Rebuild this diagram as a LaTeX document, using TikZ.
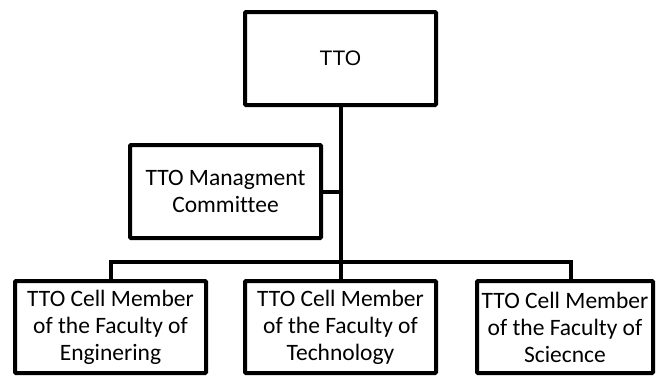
\documentclass[tikz,border=0pt]{standalone}
\usepackage{fontspec}
\setmainfont[Ligatures={NoCommon}]{Carlito}
\newfontfamily\arialf{Liberation Sans}
\begin{document}
\begin{tikzpicture}[x=1pt,y=1pt,
  box/.style={draw=black, line width=4pt, fill=white, rounded corners=1pt,
    inner sep=0pt, align=center, font=\fontsize{23.5}{27}\selectfont},
  conn/.style={draw=black, line width=4pt}]
\useasboundingbox (0,0) rectangle (656,376);
\node[box, minimum width=191pt, minimum height=93pt, font=\arialf\fontsize{21}{25}\selectfont] (tto) at (340.5,317.5) {TTO};
\node[box, minimum width=191pt, minimum height=93pt] (mgmt) at (225.5,184.5) {TTO Managment\\Committee};
\node[box, minimum width=191pt, minimum height=92pt] (b1) at (110.5,49) {TTO Cell Member\\of the Faculty of\\Enginering};
\node[box, minimum width=191pt, minimum height=92pt] (b2) at (340.5,49) {TTO Cell Member\\of the Faculty of\\Technology};
\node[box, minimum width=176pt, minimum height=92pt] (b3) at (565,49) {TTO Cell Member\\of the Faculty of\\Sciecnce};
\coordinate (bus) at (340.5,114);
\coordinate (d3) at (571,95);
\draw[conn] (tto.south) -- (b2.north);
\draw[conn] (b1.north) |- (bus) -| (d3);
\draw[conn] (mgmt.east) -- (mgmt.east -| tto.south);
\end{tikzpicture}
\end{document}
